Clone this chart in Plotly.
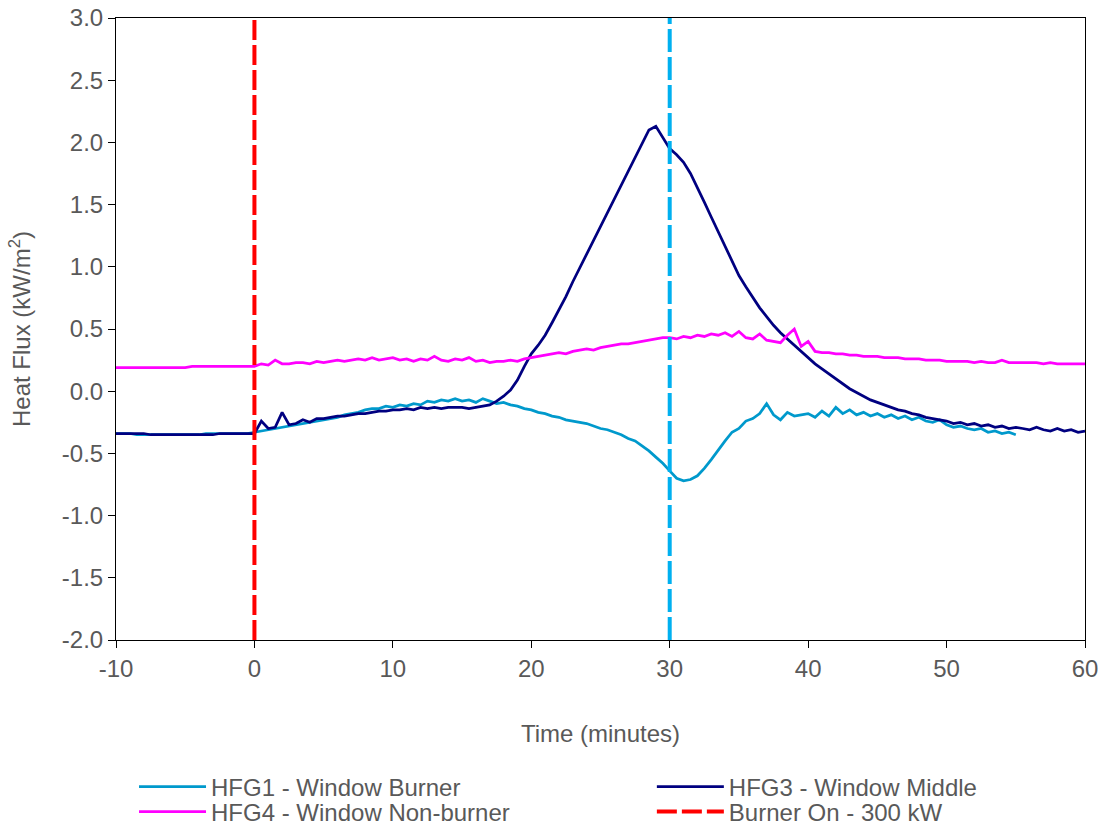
import plotly.graph_objects as go

# Time axis (minutes), 0.5 min steps
time_full = [round(-10 + 0.5 * i, 1) for i in range(141)]   # -10 .. 60
time_hfg1 = [round(-10 + 0.5 * i, 1) for i in range(131)]   # -10 .. 55

hfg1 = [
    -0.34, -0.34, -0.34, -0.35, -0.35, -0.35, -0.35, -0.35, -0.35, -0.35,
    -0.35, -0.35, -0.35, -0.34, -0.34, -0.34, -0.34, -0.34, -0.34, -0.34,
    -0.33, -0.32, -0.31, -0.30, -0.29, -0.28, -0.27, -0.26, -0.25, -0.24,
    -0.23, -0.22, -0.21, -0.19, -0.18, -0.17, -0.15, -0.14, -0.14, -0.12,
    -0.13, -0.11, -0.12, -0.10, -0.11, -0.08, -0.09, -0.07, -0.08, -0.06,
    -0.08, -0.07, -0.09, -0.06, -0.08, -0.10, -0.09, -0.11, -0.12, -0.14,
    -0.15, -0.17, -0.18, -0.20, -0.21, -0.23, -0.24, -0.25, -0.26, -0.28,
    -0.30, -0.31, -0.33, -0.35, -0.38, -0.40, -0.44, -0.48, -0.53, -0.58,
    -0.64, -0.70, -0.72, -0.71, -0.68, -0.62, -0.55, -0.47, -0.40, -0.33,
    -0.30, -0.24, -0.22, -0.18, -0.10, -0.19, -0.23, -0.17, -0.20, -0.19,
    -0.18, -0.21, -0.16, -0.20, -0.13, -0.18, -0.15, -0.19, -0.17, -0.20,
    -0.18, -0.21, -0.19, -0.22, -0.20, -0.23, -0.21, -0.24, -0.25, -0.23,
    -0.27, -0.29, -0.28, -0.30, -0.31, -0.30, -0.33, -0.32, -0.34, -0.33,
    -0.35,
]

hfg3 = [
    -0.34, -0.34, -0.34, -0.34, -0.34, -0.35, -0.35, -0.35, -0.35, -0.35,
    -0.35, -0.35, -0.35, -0.35, -0.35, -0.34, -0.34, -0.34, -0.34, -0.34,
    -0.34, -0.24, -0.30, -0.29, -0.17, -0.27, -0.26, -0.23, -0.25, -0.22,
    -0.22, -0.21, -0.20, -0.20, -0.19, -0.18, -0.18, -0.17, -0.16, -0.16,
    -0.15, -0.15, -0.14, -0.15, -0.13, -0.14, -0.13, -0.14, -0.13, -0.13,
    -0.13, -0.14, -0.13, -0.12, -0.11, -0.08, -0.04, 0.01, 0.09, 0.20,
    0.30, 0.37, 0.45, 0.55, 0.65, 0.76, 0.88, 0.99, 1.10, 1.21,
    1.33, 1.44, 1.55, 1.66, 1.76, 1.88, 1.99, 2.10, 2.13, 2.04,
    1.95, 1.90, 1.84, 1.75, 1.64, 1.52, 1.40, 1.28, 1.16, 1.04,
    0.93, 0.84, 0.75, 0.67, 0.60, 0.53, 0.47, 0.42, 0.37, 0.32,
    0.27, 0.22, 0.18, 0.14, 0.10, 0.06, 0.02, -0.01, -0.04, -0.07,
    -0.09, -0.11, -0.13, -0.15, -0.16, -0.18, -0.19, -0.21, -0.22, -0.23,
    -0.24, -0.26, -0.25, -0.27, -0.26, -0.28, -0.27, -0.29, -0.28, -0.30,
    -0.29, -0.30, -0.31, -0.29, -0.31, -0.32, -0.30, -0.32, -0.31, -0.33,
    -0.32,
]

hfg4 = [
    0.19, 0.19, 0.19, 0.19, 0.19, 0.19, 0.19, 0.19, 0.19, 0.19,
    0.19, 0.20, 0.20, 0.20, 0.20, 0.20, 0.20, 0.20, 0.20, 0.20,
    0.20, 0.22, 0.21, 0.25, 0.22, 0.22, 0.23, 0.23, 0.22, 0.24,
    0.23, 0.24, 0.25, 0.24, 0.25, 0.26, 0.25, 0.27, 0.25, 0.26,
    0.27, 0.25, 0.26, 0.24, 0.26, 0.25, 0.28, 0.25, 0.24, 0.26,
    0.25, 0.27, 0.24, 0.25, 0.23, 0.24, 0.24, 0.25, 0.24, 0.26,
    0.27, 0.28, 0.29, 0.30, 0.31, 0.30, 0.32, 0.33, 0.34, 0.33,
    0.35, 0.36, 0.37, 0.38, 0.38, 0.39, 0.40, 0.41, 0.42, 0.43,
    0.43, 0.42, 0.44, 0.43, 0.45, 0.44, 0.46, 0.45, 0.47, 0.44,
    0.48, 0.43, 0.42, 0.46, 0.41, 0.40, 0.39, 0.45, 0.50, 0.36,
    0.40, 0.32, 0.31, 0.31, 0.30, 0.30, 0.29, 0.29, 0.28, 0.28,
    0.28, 0.27, 0.27, 0.27, 0.26, 0.26, 0.26, 0.25, 0.25, 0.25,
    0.24, 0.24, 0.24, 0.24, 0.23, 0.24, 0.23, 0.23, 0.25, 0.23,
    0.23, 0.23, 0.23, 0.23, 0.22, 0.23, 0.22, 0.22, 0.22, 0.22,
    0.22,
]

burner_on_x = [0, 0]
marker_30_x = [30, 30]
vline_y = [-2, 3]

x_ticks = [-10, 0, 10, 20, 30, 40, 50, 60]
x_ticktext = ["-10", "0", "10", "20", "30", "40", "50", "60"]
y_ticks = [-2.0, -1.5, -1.0, -0.5, 0.0, 0.5, 1.0, 1.5, 2.0, 2.5, 3.0]
y_ticktext = ["-2.0", "-1.5", "-1.0", "-0.5", "0.0", "0.5", "1.0", "1.5", "2.0", "2.5", "3.0"]

FONT = "Liberation Sans, Arial, sans-serif"
GREY = "#595959"
FS = 24

fig = go.Figure()
fig.add_trace(go.Scatter(x=time_hfg1, y=hfg1, mode="lines",
                         name="HFG1 - Window Burner", legend="legend",
                         line=dict(color="#0099CC", width=2.75)))
fig.add_trace(go.Scatter(x=time_full, y=hfg3, mode="lines",
                         name="HFG3 - Window Middle", legend="legend2",
                         line=dict(color="#000080", width=2.75)))
fig.add_trace(go.Scatter(x=time_full, y=hfg4, mode="lines",
                         name="HFG4 - Window Non-burner", legend="legend3",
                         line=dict(color="#FF00FF", width=2.75)))
fig.add_trace(go.Scatter(x=burner_on_x, y=vline_y, mode="lines",
                         name="Burner On - 300 kW", legend="legend4",
                         line=dict(color="#FF0000", width=4, dash="20px,5px")))
fig.add_trace(go.Scatter(x=marker_30_x, y=vline_y, mode="lines",
                         showlegend=False, hoverinfo="skip",
                         line=dict(color="#00B0F0", width=4, dash="23px,5px")))

def leg(x, y):
    return dict(x=x, y=y, xanchor="left", yanchor="middle", orientation="v",
                itemwidth=67, font=dict(family=FONT, size=FS, color=GREY),
                bgcolor="rgba(0,0,0,0)", borderwidth=0)

col1, col2 = 0.0186, 0.553
row1, row2 = -0.2363, -0.2765

fig.update_layout(
    width=1103, height=825,
    margin=dict(l=116, r=18, t=18, b=185, autoexpand=False),
    paper_bgcolor="white", plot_bgcolor="white",
    font=dict(family=FONT, size=FS, color=GREY),
    showlegend=True,
    legend=leg(col1, row1),
    legend2=leg(col2, row1),
    legend3=leg(col1, row2),
    legend4=leg(col2, row2),
)
fig.update_xaxes(range=[-10, 60], tickvals=x_ticks, ticktext=x_ticktext,
                 ticks="outside", ticklen=7,
                 tickcolor="black", showline=True, linecolor="black", linewidth=1,
                 mirror=True, showgrid=False, zeroline=False,
                 tickfont=dict(size=FS, color=GREY),
                 title=dict(text="Time (minutes)", font=dict(size=FS, color=GREY), standoff=44))
fig.update_yaxes(range=[-2, 3], tickvals=y_ticks, ticktext=y_ticktext, ticks="outside",
                 ticklen=7, tickcolor="black", showline=True, linecolor="black",
                 linewidth=1, mirror=True, showgrid=False, zeroline=False,
                 tickfont=dict(size=FS, color=GREY),
                 title=dict(text="Heat Flux (kW/m<sup>2</sup>)", font=dict(size=FS, color=GREY), standoff=24))

fig.write_html("out.html")
